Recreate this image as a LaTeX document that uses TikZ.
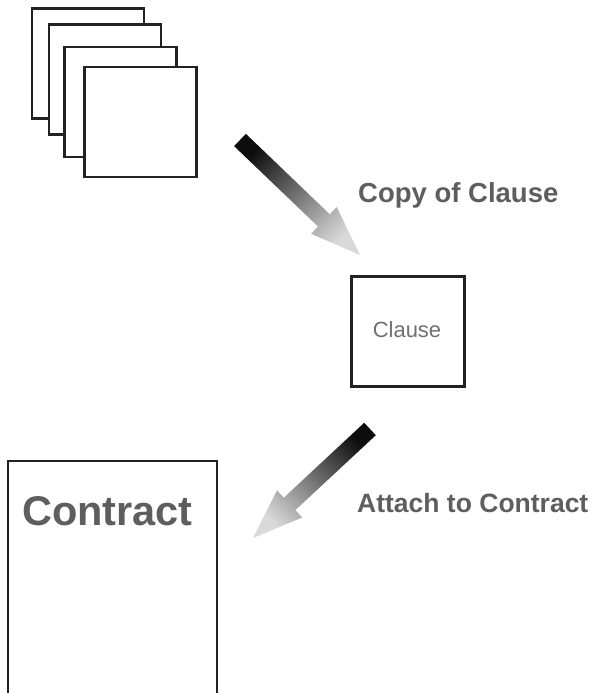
\documentclass[tikz,border=0pt]{standalone}
\usepackage{fontspec}
\setmainfont{Liberation Sans}
\usetikzlibrary{calc}
\definecolor{edge}{HTML}{222222}
\definecolor{labelgray}{HTML}{5E5E5E}
\definecolor{cltext}{HTML}{707070}
\tikzset{
  sheet/.style={draw=edge, line width=2.2pt, fill=white, minimum width=112pt, minimum height=110pt, inner sep=0pt, outer sep=0pt},
  lbl/.style={text=labelgray, font=\bfseries\fontsize{26.5}{30}\selectfont, inner sep=0pt, anchor=base west},
}
\newcommand{\gradarrow}[3]{%
  \coordinate (#1H) at ($(#3)!50pt!(#2)$);
  \shade[top color=black!95, bottom color=black!15, shading angle=#1]
    ($(#2)!8.5pt!90:(#3)$) -- ($(#1H)!8.5pt!90:(#3)$) -- ($(#1H)!18.5pt!90:(#3)$) -- (#3)
    -- ($(#1H)!18.5pt!-90:(#3)$) -- ($(#1H)!8.5pt!-90:(#3)$) -- ($(#2)!8.5pt!-90:(#3)$) -- cycle;
}
\begin{document}
\begin{tikzpicture}[x=1pt,y=-1pt]
\useasboundingbox (0,0) rectangle (601,693);
\clip (0,0) rectangle (601,693);
\fill[white] (0,0) rectangle (601,693);
% stack of clauses
\node[sheet] (p1) at (88,63.5) {};
\node[sheet] (p2) at (105,79.5) {};
\node[sheet] (p3) at (120.5,102) {};
\node[sheet] (p4) at (140.5,122) {};
% single clause
\node[sheet, minimum width=113pt] (clause) at (408,331.5) {};
\node[text=cltext, font=\fontsize{22}{26}\selectfont, inner sep=0pt, anchor=base] (cltxt) at (407,337) {Clause};
% contract
\draw[edge, line width=2.2pt, fill=white] (8,461) rectangle (217,720);
\node[text=labelgray, font=\bfseries\fontsize{41.5}{46}\selectfont, inner sep=0pt, anchor=base west] (contract) at (22,525) {Contract};
% labels
\node[lbl, font=\bfseries\fontsize{27.5}{30}\selectfont] (copy) at (358,202) {Copy of Clause};
\node[lbl] (attach) at (357,512) {Attach to Contract};
% arrows
\coordinate (s1) at (240,140);
\coordinate (e1) at (360,255);
\coordinate (s2) at (370,429);
\coordinate (e2) at (253,538);
\gradarrow{45}{s1}{e1}
\gradarrow{-45}{s2}{e2}
\end{tikzpicture}
\end{document}
